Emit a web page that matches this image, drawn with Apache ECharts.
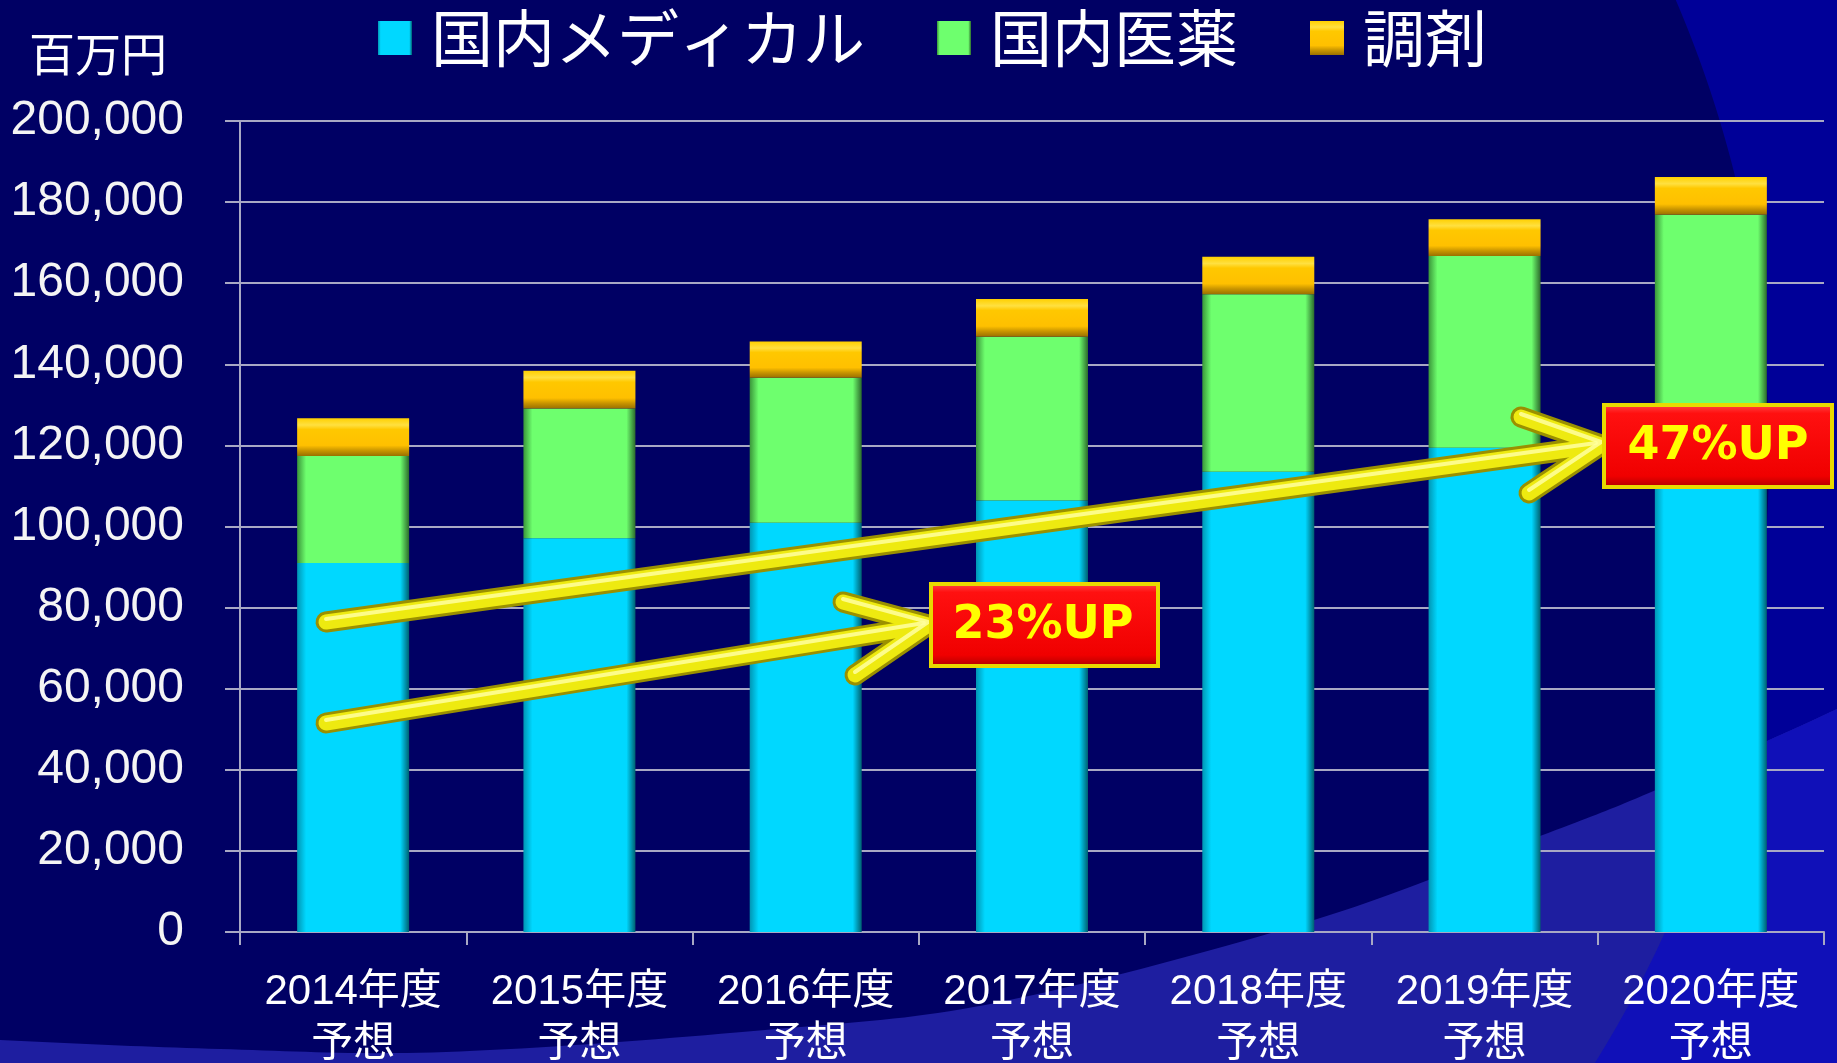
<!DOCTYPE html>
<html><head><meta charset="utf-8">
<script src="https://cdn.jsdelivr.net/npm/echarts@6/dist/echarts.min.js"></script>
<style>html,body{margin:0;padding:0;background:#000064;}#c{width:1837px;height:1063px;}</style>
</head><body><div id="c"></div>
<script>
// ---- data ----
const categories = ['2014年度\n予想','2015年度\n予想','2016年度\n予想','2017年度\n予想','2018年度\n予想','2019年度\n予想','2020年度\n予想'];
const seriesNames = ['国内メディカル','国内医薬','調剤'];
const medical    = [91000, 97100, 100900, 106400, 113500, 119400, 126000];
const pharma     = [26400, 32000, 35800, 40400, 43800, 47300, 50900];
const dispensing = [9300, 9300, 8900, 9300, 9200, 9100, 9300];
const yTickLabels = ['0','20,000','40,000','60,000','80,000','100,000','120,000','140,000','160,000','180,000','200,000'];
const unitLabel = '百万円';
const notes = ['23%UP','47%UP'];

// ---- styling helpers ----
const LG = echarts.graphic.LinearGradient;
function hGrad(l, m, r){ return new LG(0,0,1,0,[{offset:0,color:l},{offset:0.08,color:m},{offset:0.92,color:m},{offset:1,color:r}]); }
const blueFill = hGrad('#0096B4','#00D8FF','#006070');
const greenFill = hGrad('#3A963A','#6EFF6E','#2C6A2C');
const orangeFill = new LG(0,0,0,1,[{offset:0,color:'#FFD000'},{offset:0.18,color:'#FFE040'},{offset:0.3,color:'#FFC800'},{offset:0.72,color:'#FFC000'},{offset:0.86,color:'#C89400'},{offset:1,color:'#9A7000'}]);

// ---- background decoration ----
const W = 1837, H = 1063;
const c1 = {cx:617, cy:454, r:1152};
function x1(y){ return c1.cx + Math.sqrt(Math.max(0, c1.r*c1.r - (y-c1.cy)*(y-c1.cy))); }
const curveKnots = [[-200,1030],[0,1040],[220,1049],[446,1052],[765,1030],[1000,1002],[1314,920],[1540,836],[1656,790],[1837,709],[2000,630]];
function catmull(pts, n){
  const out=[];
  for(let i=0;i<pts.length-1;i++){
    const p0=pts[Math.max(i-1,0)],p1=pts[i],p2=pts[i+1],p3=pts[Math.min(i+2,pts.length-1)];
    for(let k=0;k<n;k++){
      const t=k/n,t2=t*t,t3=t2*t;
      const f=(a,b,c,d)=>0.5*((2*b)+(-a+c)*t+(2*a-5*b+4*c-d)*t2+(-a+3*b-3*c+d)*t3);
      out.push([f(p0[0],p1[0],p2[0],p3[0]), f(p0[1],p1[1],p2[1],p3[1])]);
    }
  }
  out.push(pts[pts.length-1]);
  return out;
}
const curve = catmull(curveKnots, 20);
const rightRegion = [];
for(let y=-5;y<=H+5;y+=8) rightRegion.push([x1(y), y]);
rightRegion.push([W+10,H+5],[W+10,-5]);
const lowerRegion = curve.slice();
lowerRegion.push([2000,H+10],[-200,H+10]);
// lower-right intersection
let idx = curve.findIndex(p => p[1] > -1 && p[1] < H && p[0] >= x1(p[1]));
const lowerRight = curve.slice(idx);
lowerRight.push([2000,H+10]);
const yi = curve[idx][1];
for(let y=H+10;y>=yi;y-=8){ lowerRight.push([x1(y), y]); }

const bg = [
  {type:'polygon', z:-100, silent:true, shape:{points:rightRegion}, style:{fill:'#000098'}},
  {type:'polygon', z:-99, silent:true, shape:{points:lowerRegion}, style:{fill:'#1E1EA0'}},
  {type:'polygon', z:-98, silent:true, shape:{points:lowerRight}, style:{fill:'#1010B8'}}
];

// ---- annotations ----
function arrow(shaft, head){
  const els=[];
  const layers=[['#9A9000',21],['#EEEA10',15]];
  layers.forEach((L,i)=>{
    [shaft, head].forEach(p=>els.push({type:'polyline', z:100+i, silent:true, shape:{points:p}, style:{stroke:L[0], lineWidth:L[1], lineCap:'round', lineJoin:'round', fill:null}}));
  });
  [shaft, head].forEach(p=>els.push({type:'polyline', z:103, silent:true, shape:{points:p.map(q=>[q[0],q[1]-3])}, style:{stroke:'rgba(255,255,160,0.85)', lineWidth:4, lineCap:'round', lineJoin:'round', fill:null}}));
  return els;
}
function box(x,y,w,h,text,tx){
  return [
    {type:'rect', z:110, silent:true, shape:{x:x,y:y,width:w,height:h}, style:{fill:new LG(0,0,0,1,[{offset:0,color:'#FF5050'},{offset:0.12,color:'#FF1010'},{offset:0.85,color:'#F00000'},{offset:1,color:'#A80000'}]), stroke:'#E8DA00', lineWidth:4}},
    {type:'text', z:111, silent:true, style:{text:text, x:tx, y:y+h/2+1, align:'center', verticalAlign:'middle', textAlign:'center', textVerticalAlign:'middle', fill:'#FFFF00', font:'bold 46px "DejaVu Sans"'}}
  ];
}
const ann = [].concat(
  arrow([[326,622],[1596,446]], [[1521,417],[1601,445],[1529,493]]),
  arrow([[326,723],[924,626]], [[843,602],[928,625],[855,675]]),
  box(931,584,227,82,notes[0],1043),
  box(1604,405,228,82,notes[1],1718)
);

const gridColor = '#A8A8C4';
const chart = echarts.init(document.getElementById('c'), null, {renderer:'canvas'});
chart.setOption({
  backgroundColor:'#000064',
  animation:false,
  title:{text:unitLabel, left:29, top:31, padding:0, textStyle:{color:'#FFFFFF', fontSize:46, fontWeight:'normal', fontFamily:'"Noto Sans CJK JP"', lineHeight:46}},
  legend:{
    left:378, top:7, padding:0, itemGap:72, itemWidth:34, itemHeight:34, icon:'rect',
    data:seriesNames,
    textStyle:{color:'#FFFFFF', fontSize:62, fontFamily:'"Noto Sans CJK JP"', lineHeight:62, padding:[0,0,0,14]}
  },
  grid:{left:240, right:13, top:121, bottom:131, containLabel:false, outerBoundsMode:'none'},
  xAxis:{
    type:'category', data:categories,
    axisLine:{lineStyle:{color:gridColor, width:2}},
    axisTick:{show:true, length:13, lineStyle:{color:gridColor, width:2}},
    axisLabel:{color:'#FFFFFF', fontSize:42, lineHeight:52, margin:34, fontFamily:'"Liberation Sans","Noto Sans CJK JP"', interval:0}
  },
  yAxis:{
    type:'value', min:0, max:200000, interval:20000,
    axisLine:{show:true, lineStyle:{color:gridColor, width:2}},
    axisTick:{show:true, length:15, lineStyle:{color:gridColor, width:2}},
    splitLine:{show:true, lineStyle:{color:gridColor, width:2}},
    axisLabel:{color:'#F4F4F4', fontSize:48, margin:56, fontFamily:'"Liberation Sans"', formatter:(v)=>yTickLabels[Math.round(v/20000)]}
  },
  series:[
    {name:seriesNames[0], type:'bar', stack:'t', barWidth:112, data:medical, itemStyle:{color:blueFill}},
    {name:seriesNames[1], type:'bar', stack:'t', barWidth:112, data:pharma, itemStyle:{color:greenFill}},
    {name:seriesNames[2], type:'bar', stack:'t', barWidth:112, data:dispensing, itemStyle:{color:orangeFill}}
  ],
  graphic:{elements:bg.concat(ann)}
});
</script></body></html>
